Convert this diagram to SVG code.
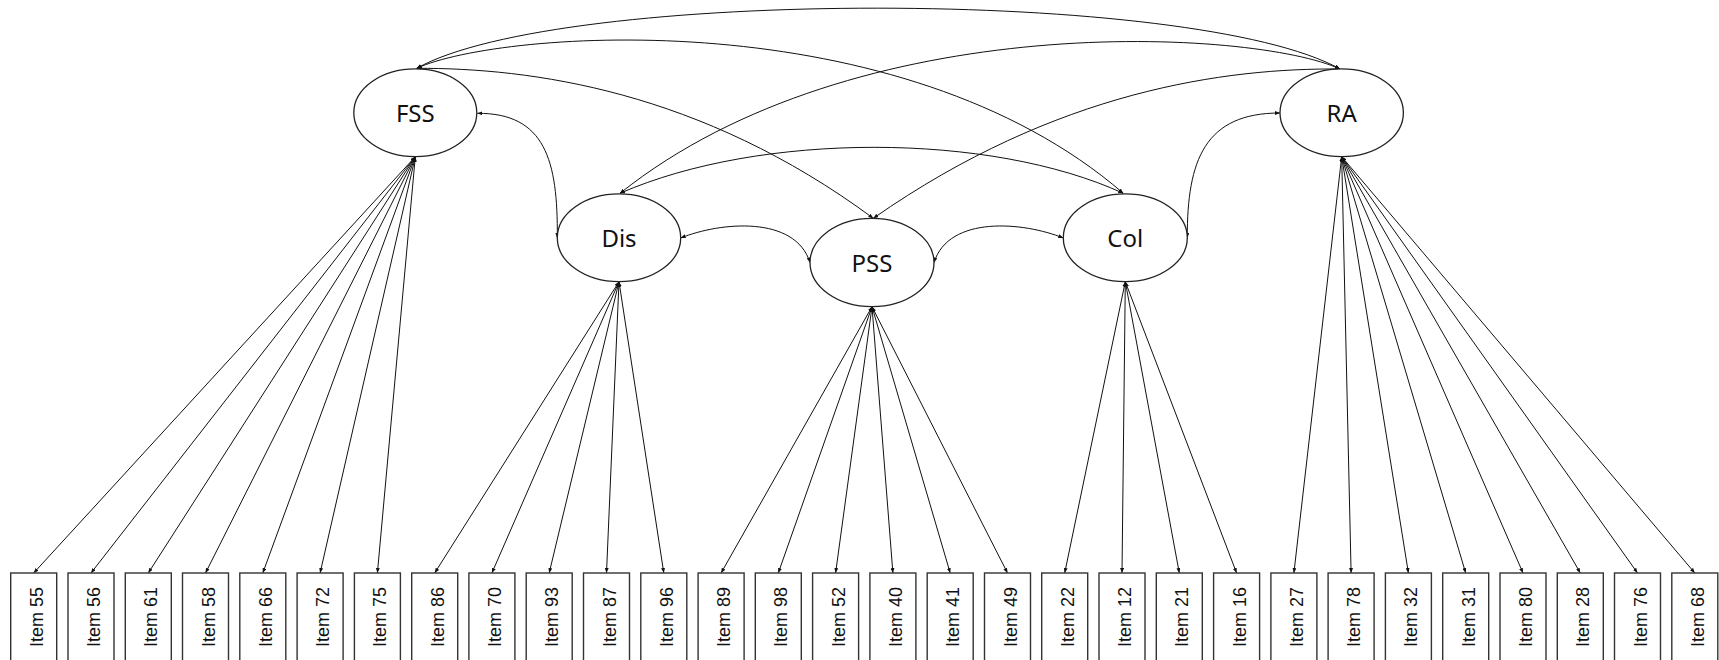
<svg xmlns="http://www.w3.org/2000/svg" width="1719" height="660" viewBox="0 0 1719 660">
<style>
.lat{fill:#fff;stroke:#222;stroke-width:1.3}
.lt{font-family:"Noto Sans","Open Sans",sans-serif;font-size:24px;fill:#111;text-anchor:middle;dominant-baseline:central}
.box{fill:#fff;stroke:#333;stroke-width:1.4}
.it{font-family:"Liberation Sans",Arial,sans-serif;font-size:18px;fill:#111;text-anchor:middle}
.c{fill:none;stroke:#111;stroke-width:1;marker-start:url(#ah);marker-end:url(#ah)}
</style>
<defs>
<marker id="ah" markerUnits="userSpaceOnUse" markerWidth="5" markerHeight="4" refX="5" refY="2" orient="auto-start-reverse">
<path d="M0,0 L5,2 L0,4 z" fill="#111"/>
</marker>
</defs>
<rect width="1719" height="660" fill="#fff"/>
<g id="connectors">
<path class="c" d="M416.7,68.3 C560,-12 1195,-12 1340,69"/>
<path class="c" d="M416.7,68.3 C500,30 900,0 1123.3,193.3"/>
<path class="c" d="M1340,69 C1256,30 856,5 620,193.3"/>
<path class="c" d="M416.7,68.3 C530,68 700,90 873.3,218.3"/>
<path class="c" d="M1340,69 C1226.7,68 1056.7,90 873.3,218.3"/>
<path class="c" d="M620,193.3 C760,132 990,132 1123.3,193.3"/>
<path class="c" d="M477.3,113.3 C545,113 558,160 557.3,238"/>
<path class="c" d="M1187.3,238 C1187,160 1205,113 1280,113"/>
<path class="c" d="M680.7,238 C720,222 795,215 810,262.5"/>
<path class="c" d="M934,262.5 C949,215 1024,222 1063.3,238"/>
<path class="c" d="M415.3,156.7 L33.7,573"/>
<path class="c" d="M415.3,156.7 L91,573"/>
<path class="c" d="M415.3,156.7 L148.3,573"/>
<path class="c" d="M415.3,156.7 L205.5,573"/>
<path class="c" d="M415.3,156.7 L262.8,573"/>
<path class="c" d="M415.3,156.7 L320.1,573"/>
<path class="c" d="M415.3,156.7 L377.4,573"/>
<path class="c" d="M619,281.7 L434.7,573"/>
<path class="c" d="M619,281.7 L491.9,573"/>
<path class="c" d="M619,281.7 L549.2,573"/>
<path class="c" d="M619,281.7 L606.5,573"/>
<path class="c" d="M619,281.7 L663.8,573"/>
<path class="c" d="M872,306.7 L721.1,573"/>
<path class="c" d="M872,306.7 L778.3,573"/>
<path class="c" d="M872,306.7 L835.6,573"/>
<path class="c" d="M872,306.7 L892.9,573"/>
<path class="c" d="M872,306.7 L950.2,573"/>
<path class="c" d="M872,306.7 L1007.5,573"/>
<path class="c" d="M1125.3,281.7 L1064.7,573"/>
<path class="c" d="M1125.3,281.7 L1122,573"/>
<path class="c" d="M1125.3,281.7 L1179.3,573"/>
<path class="c" d="M1125.3,281.7 L1236.6,573"/>
<path class="c" d="M1341.7,156.7 L1293.9,573"/>
<path class="c" d="M1341.7,156.7 L1351.1,573"/>
<path class="c" d="M1341.7,156.7 L1408.4,573"/>
<path class="c" d="M1341.7,156.7 L1465.7,573"/>
<path class="c" d="M1341.7,156.7 L1523,573"/>
<path class="c" d="M1341.7,156.7 L1580.3,573"/>
<path class="c" d="M1341.7,156.7 L1637.5,573"/>
<path class="c" d="M1341.7,156.7 L1694.8,573"/>
</g>
<g id="FSS"><ellipse class="lat" cx="415.3" cy="112.8" rx="61.5" ry="43.9"/><text class="lt" x="415.3" y="112.8">FSS</text></g>
<g id="Dis"><ellipse class="lat" cx="619" cy="237.8" rx="61.7" ry="43.9"/><text class="lt" x="619" y="237.8">Dis</text></g>
<g id="PSS"><ellipse class="lat" cx="872" cy="262.5" rx="62" ry="44.2"/><text class="lt" x="872" y="262.5">PSS</text></g>
<g id="Col"><ellipse class="lat" cx="1125.3" cy="237.8" rx="62" ry="43.9"/><text class="lt" x="1125.3" y="237.8">Col</text></g>
<g id="RA"><ellipse class="lat" cx="1341.7" cy="112.8" rx="61.7" ry="43.9"/><text class="lt" x="1341.7" y="112.8">RA</text></g>
<g id="item55"><rect class="box" x="10.7" y="573" width="46" height="100"/><text class="it" transform="translate(42.7,617) rotate(-90)">Item 55</text></g>
<g id="item56"><rect class="box" x="68" y="573" width="46" height="100"/><text class="it" transform="translate(100,617) rotate(-90)">Item 56</text></g>
<g id="item61"><rect class="box" x="125.3" y="573" width="46" height="100"/><text class="it" transform="translate(157.3,617) rotate(-90)">Item 61</text></g>
<g id="item58"><rect class="box" x="182.5" y="573" width="46" height="100"/><text class="it" transform="translate(214.5,617) rotate(-90)">Item 58</text></g>
<g id="item66"><rect class="box" x="239.8" y="573" width="46" height="100"/><text class="it" transform="translate(271.8,617) rotate(-90)">Item 66</text></g>
<g id="item72"><rect class="box" x="297.1" y="573" width="46" height="100"/><text class="it" transform="translate(329.1,617) rotate(-90)">Item 72</text></g>
<g id="item75"><rect class="box" x="354.4" y="573" width="46" height="100"/><text class="it" transform="translate(386.4,617) rotate(-90)">Item 75</text></g>
<g id="item86"><rect class="box" x="411.7" y="573" width="46" height="100"/><text class="it" transform="translate(443.7,617) rotate(-90)">Item 86</text></g>
<g id="item70"><rect class="box" x="468.9" y="573" width="46" height="100"/><text class="it" transform="translate(500.9,617) rotate(-90)">Item 70</text></g>
<g id="item93"><rect class="box" x="526.2" y="573" width="46" height="100"/><text class="it" transform="translate(558.2,617) rotate(-90)">Item 93</text></g>
<g id="item87"><rect class="box" x="583.5" y="573" width="46" height="100"/><text class="it" transform="translate(615.5,617) rotate(-90)">Item 87</text></g>
<g id="item96"><rect class="box" x="640.8" y="573" width="46" height="100"/><text class="it" transform="translate(672.8,617) rotate(-90)">Item 96</text></g>
<g id="item89"><rect class="box" x="698.1" y="573" width="46" height="100"/><text class="it" transform="translate(730.1,617) rotate(-90)">Item 89</text></g>
<g id="item98"><rect class="box" x="755.3" y="573" width="46" height="100"/><text class="it" transform="translate(787.3,617) rotate(-90)">Item 98</text></g>
<g id="item52"><rect class="box" x="812.6" y="573" width="46" height="100"/><text class="it" transform="translate(844.6,617) rotate(-90)">Item 52</text></g>
<g id="item40"><rect class="box" x="869.9" y="573" width="46" height="100"/><text class="it" transform="translate(901.9,617) rotate(-90)">Item 40</text></g>
<g id="item41"><rect class="box" x="927.2" y="573" width="46" height="100"/><text class="it" transform="translate(959.2,617) rotate(-90)">Item 41</text></g>
<g id="item49"><rect class="box" x="984.5" y="573" width="46" height="100"/><text class="it" transform="translate(1016.5,617) rotate(-90)">Item 49</text></g>
<g id="item22"><rect class="box" x="1041.7" y="573" width="46" height="100"/><text class="it" transform="translate(1073.7,617) rotate(-90)">Item 22</text></g>
<g id="item12"><rect class="box" x="1099" y="573" width="46" height="100"/><text class="it" transform="translate(1131,617) rotate(-90)">Item 12</text></g>
<g id="item21"><rect class="box" x="1156.3" y="573" width="46" height="100"/><text class="it" transform="translate(1188.3,617) rotate(-90)">Item 21</text></g>
<g id="item16"><rect class="box" x="1213.6" y="573" width="46" height="100"/><text class="it" transform="translate(1245.6,617) rotate(-90)">Item 16</text></g>
<g id="item27"><rect class="box" x="1270.9" y="573" width="46" height="100"/><text class="it" transform="translate(1302.9,617) rotate(-90)">Item 27</text></g>
<g id="item78"><rect class="box" x="1328.1" y="573" width="46" height="100"/><text class="it" transform="translate(1360.1,617) rotate(-90)">Item 78</text></g>
<g id="item32"><rect class="box" x="1385.4" y="573" width="46" height="100"/><text class="it" transform="translate(1417.4,617) rotate(-90)">Item 32</text></g>
<g id="item31"><rect class="box" x="1442.7" y="573" width="46" height="100"/><text class="it" transform="translate(1474.7,617) rotate(-90)">Item 31</text></g>
<g id="item80"><rect class="box" x="1500" y="573" width="46" height="100"/><text class="it" transform="translate(1532,617) rotate(-90)">Item 80</text></g>
<g id="item28"><rect class="box" x="1557.3" y="573" width="46" height="100"/><text class="it" transform="translate(1589.3,617) rotate(-90)">Item 28</text></g>
<g id="item76"><rect class="box" x="1614.5" y="573" width="46" height="100"/><text class="it" transform="translate(1646.5,617) rotate(-90)">Item 76</text></g>
<g id="item68"><rect class="box" x="1671.8" y="573" width="46" height="100"/><text class="it" transform="translate(1703.8,617) rotate(-90)">Item 68</text></g>
</svg>
